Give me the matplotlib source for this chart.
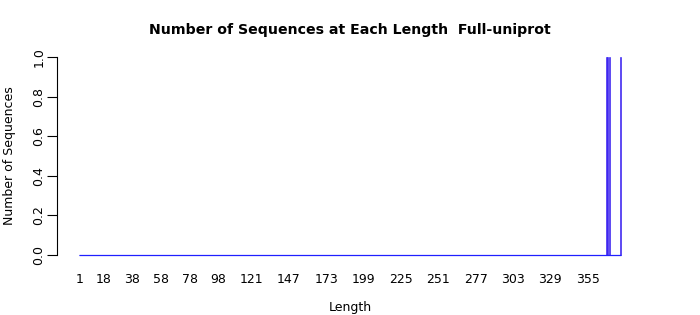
import numpy as np
import matplotlib
matplotlib.use("Agg")
import matplotlib.pyplot as plt

# 長度類別與非零計數
lengths = list(range(1, 379))
peak_lengths = [368, 369, 370, 378]
peak_counts = [1, 1, 1, 1]
shown_labels = [1, 18, 38, 58, 78, 98, 121, 147, 173, 199, 225, 251, 277, 303, 329, 355]

counts = [0] * len(lengths)
for L, c in zip(peak_lengths, peak_counts):
    counts[lengths.index(L)] = c

# R barplot 風格: 寬度 1, 間距 0.2
pos = np.arange(len(lengths)) * 1.2 + 0.7

fig = plt.figure(figsize=(7, 3.15), dpi=100)
ax = fig.add_axes([57 / 700, 1 - 263 / 315, 586 / 700, 214 / 315])

ax.bar(pos, counts, width=1.0, color="#6A10C8", edgecolor="#2020FF", linewidth=0.4)
# 零高度長條的邊框連成基線
ax.hlines(0, pos[0] - 0.5, pos[-1] + 0.5, color="#2020FF", linewidth=0.9)

span = pos[-1] + 0.5 - (pos[0] - 0.5)
ax.set_xlim(pos[0] - 0.5 - 0.04 * span, pos[-1] + 0.5 + 0.04 * span)
ax.set_ylim(-0.04, 1.04)

for s in ["top", "right", "bottom"]:
    ax.spines[s].set_visible(False)
ax.spines["left"].set_bounds(0, 1)
ax.spines["left"].set_linewidth(0.8)

ax.set_yticks([0, 0.2, 0.4, 0.6, 0.8, 1.0])
ax.set_yticklabels(["0.0", "0.2", "0.4", "0.6", "0.8", "1.0"], rotation=90, va="center", fontsize=9)
ax.tick_params(axis="y", length=7, width=0.8, pad=1.5)

ax.set_xticks([pos[lengths.index(v)] for v in shown_labels])
ax.set_xticklabels([str(v) for v in shown_labels], fontsize=9)
ax.tick_params(axis="x", length=0, pad=7)

ax.set_xlabel("Length", fontsize=9, labelpad=11)
ax.set_ylabel("Number of Sequences", fontsize=9, labelpad=12)
ax.set_title("Number of Sequences at Each Length  Full-uniprot", fontsize=10.2, fontweight="bold", pad=11)

fig.savefig("out.png", dpi=100)
